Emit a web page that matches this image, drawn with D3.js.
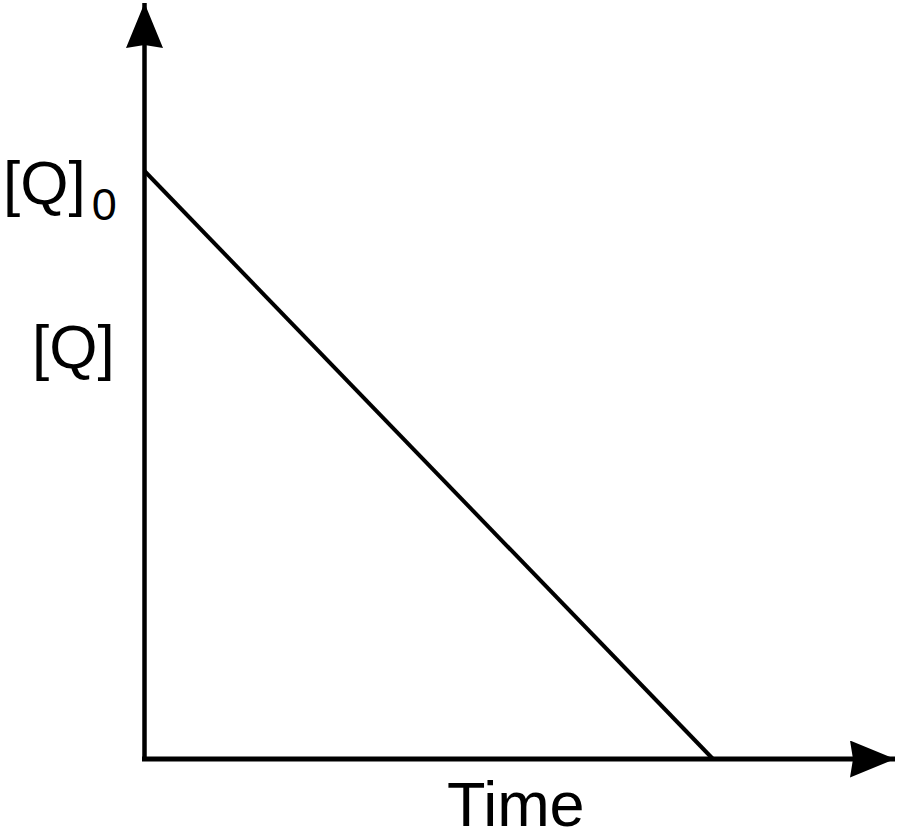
<!DOCTYPE html>
<html>
<head>
<meta charset="utf-8">
<script src="https://cdn.jsdelivr.net/npm/d3@7"></script>
<style>
  body { margin: 0; background: #fff; }
  text { font-family: "Liberation Sans", Arial, sans-serif; fill: #000; }
</style>
</head>
<body>
<svg width="900" height="840"></svg>
<script>
// data: zero-order decay of [Q] from [Q]0 to 0
const times = [0, 1]
const concentrations = [1, 0]
const yLabelStart = "[Q]"
const yLabelSub = "0"
const yAxisTitle = "[Q]"
const xAxisTitle = "Time"

const svg = d3.select("svg")

// plot corner and the far ends of the axes
const originX = 144.5
const originY = 759

const x = d3.scaleLinear()
  .domain([0, 1])
  .range([originX, 713])

const y = d3.scaleLinear()
  .domain([0, 1])
  .range([originY, 171])

// arrow heads
const defs = svg.append("defs")
defs.append("marker")
  .attr("id", "arrow")
  .attr("viewBox", "0 0 45 37")
  .attr("refX", 45)
  .attr("refY", 18.5)
  .attr("markerWidth", 45)
  .attr("markerHeight", 37)
  .attr("markerUnits", "userSpaceOnUse")
  .attr("orient", "auto")
  .append("path")
  .attr("d", "M 0 0 L 45 18.5 L 0 37 L 3 18.5 Z")
  .attr("fill", "#000")

// y axis
svg.append("line")
  .attr("x1", originX)
  .attr("y1", originY + 2)
  .attr("x2", originX)
  .attr("y2", 3)
  .attr("stroke", "#000")
  .attr("stroke-width", 4.5)
  .attr("marker-end", "url(#arrow)")

// x axis
svg.append("line")
  .attr("x1", originX - 2.5)
  .attr("y1", originY)
  .attr("x2", 895)
  .attr("y2", originY)
  .attr("stroke", "#000")
  .attr("stroke-width", 5)
  .attr("marker-end", "url(#arrow)")

// the decay line
const line = d3.line()
  .x(d => x(d[0]))
  .y(d => y(d[1]))

svg.append("path")
  .datum(d3.zip(times, concentrations))
  .attr("d", line)
  .attr("fill", "none")
  .attr("stroke", "#000")
  .attr("stroke-width", 4)

// [Q]0 label at the starting value
const startLabel = svg.append("text")
  .attr("x", 3)
  .attr("y", y(concentrations[0]) + 33)
  .attr("font-size", 62)
startLabel.append("tspan").text(yLabelStart)
startLabel.append("tspan")
  .attr("dx", 6)
  .attr("dy", 16)
  .attr("font-size", 45)
  .text(yLabelSub)

// axis titles
svg.append("text")
  .attr("x", 32)
  .attr("y", 368)
  .attr("font-size", 62)
  .text(yAxisTitle)

svg.append("text")
  .attr("x", 447)
  .attr("y", 826)
  .attr("font-size", 63)
  .text(xAxisTitle)
</script>
</body>
</html>
